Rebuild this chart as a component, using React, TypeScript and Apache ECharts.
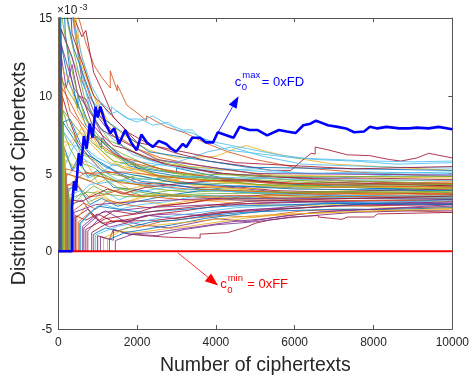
import React, { useEffect, useRef } from "react";
import * as echarts from "echarts";

// ---- axis ticks (y in units of 1e-3) ----
const xTicks = [0, 2000, 4000, 6000, 8000, 10000];
const yTicks = [-5, 0, 5, 10, 15];

// ---- highlighted key guesses ----
const guessMaxLabel = "0xFD";
const guessMinLabel = "0xFF";
const guessMax: number[][] = [[0,0],[350,0],[350,2.9],[400,4.5],[450,3.9],[520,6.3],[580,5.5],[650,7.4],[720,6.6],[800,8.2],[870,7.3],[950,9.3],[1000,8.6],[1070,9.3],[1200,8.2],[1320,7.6],[1420,7.9],[1540,6.9],[1700,7.8],[1850,7.0],[1990,6.5],[2110,7.5],[2250,7.0],[2400,6.7],[2550,7.1],[2740,6.9],[2870,6.6],[2990,6.4],[3160,6.9],[3250,6.7],[3400,7.3],[3600,7.3],[3750,7.0],[3930,7.0],[4050,7.65],[4280,7.45],[4450,7.3],[4600,8.0],[4850,7.8],[5050,7.8],[5300,7.45],[5600,7.8],[5800,7.7],[6020,7.6],[6220,8.1],[6400,8.2],[6540,8.4],[6840,8.1],[7090,8.0],[7300,7.9],[7510,7.65],[7760,7.7],[7910,8.0],[8100,7.9],[8330,8.0],[8660,7.9],[8900,7.9],[9100,7.95],[9400,7.9],[9650,8.0],[10000,7.85]];
const guessMin: number[][] = [[0,0],[10000,0]];

// ---- other key guesses ----
const earlyCurves: number[][][] = [
  [[45,0],[45,22],[180,14],[300,11.5],[500,9.2],[500,10.0],[800,8.0],[1100,6.6],[1100,7.3],[1600,6.0],[2200,5.3],[3000,5.0],[3000,5.35],[4200,4.7],[5500,4.4],[7000,4.15],[8500,4.0],[10000,3.75]],
  [[35,0],[35,28],[250,19],[500,15.2],[700,13.4],[900,12.0],[1100,11.2],[1320,10.5],[1320,11.6],[1500,10.3],[1500,10.7],[1740,9.4],[2000,8.9],[2240,8.4],[2240,8.7],[2740,8.0],[3230,7.6],[3700,7.0],[4300,6.4],[5000,5.9],[6000,5.4],[7500,5.1],[9000,4.9],[10000,4.8]],
  [[25,0],[25,40],[300,17],[420,15.5],[560,13.0],[800,10.5],[1000,9.6],[1300,8.2],[1700,7.4],[2300,6.5],[3000,6.0],[4000,6.1],[4500,6.6],[4770,6.8],[5300,6.4],[6000,6.0],[7000,5.6],[8500,5.4],[10000,5.2]],
  [[80,0],[80,12.5],[200,10.5],[350,12.0],[500,10.0],[700,9.8],[950,8.3],[1200,7.0],[1600,6.1],[2100,5.2],[2800,4.6],[3600,4.3],[4800,4.0],[6000,3.7],[7500,3.5],[9000,3.45],[10000,3.3]],
  [[110,0],[110,9.1],[250,8.0],[400,7.5],[650,5.6],[900,5.4],[1300,4.6],[1800,4.4],[2500,4.0],[3300,3.8],[4300,3.9],[5500,3.6],[7000,3.5],[8500,3.6],[10000,3.5]],
  [[60,0],[60,20],[300,16],[600,12.5],[850,10.6],[1070,9.6],[1350,9.0],[1350,9.3],[1700,8.6],[2000,8.3],[2400,8.7],[2740,8.2],[3160,7.8],[3400,7.8],[3600,7.3],[4000,7.0],[4800,6.6],[5600,6.2],[6500,5.9],[7500,5.8],[8600,5.6],[10000,5.7]],
  [[50,0],[50,20],[400,15],[600,13.8],[700,14.2],[900,11.5],[1100,10.4],[1400,8.6],[1800,7.6],[2300,6.9],[3000,6.3],[3800,5.8],[4700,5.5],[5400,5.2],[5900,5.2],[6270,6.0],[6420,6.3],[6520,6.25],[6520,6.7],[6800,6.55],[7340,6.2],[7900,6.15],[8400,5.9],[8700,5.8],[9100,6.0],[9400,6.3],[10000,6.0]],
  [[150,0],[150,6.7],[350,5.2],[500,6.0],[750,4.8],[1000,5.2],[1400,4.1],[1900,4.0],[2600,3.7],[3500,3.5],[4500,3.3],[5500,3.25],[7000,3.15],[8500,3.0],[10000,3.05]],
  [[90,0],[90,11.2],[300,9.0],[500,8.4],[750,7.2],[1000,7.4],[1400,6.3],[2000,5.6],[2600,5.3],[3300,5.0],[4200,4.6],[5200,4.5],[6500,4.3],[8000,4.2],[10000,4.1]],
  [[200,0],[200,5.0],[400,4.8],[700,3.4],[1000,3.9],[1400,3.1],[2000,3.3],[2700,3.0],[3500,3.3],[4500,3.1],[5800,2.9],[7000,3.0],[8500,2.8],[10000,2.8]],
  [[30,0],[30,33],[200,16],[350,15.5],[600,11.0],[900,9.0],[1200,8.0],[1700,6.6],[2300,5.9],[3000,5.5],[4000,5.0],[5000,4.9],[6500,4.6],[8000,4.45],[10000,4.3]],
  [[130,0],[130,7.7],[300,6.6],[550,5.5],[800,4.9],[1100,4.8],[1500,4.1],[2100,3.8],[2800,3.5],[3700,3.6],[4800,3.4],[6000,3.5],[7500,3.4],[9000,3.35],[10000,3.4]],
  [[70,0],[70,14.3],[250,13],[500,11.5],[750,10.0],[1000,9.3],[1100,9.5],[1300,8.8],[1500,9.0],[1800,8.5],[2100,8.5],[2400,8.1],[2800,8.3],[3000,7.8],[3400,7.6],[3800,7.1],[4300,6.5],[5000,6.3],[6000,6.0],[7000,5.9],[8000,5.8],[9000,5.75],[10000,5.8]],
  [[100,0],[100,10],[300,8.3],[500,7.0],[800,6.0],[1100,5.2],[1500,5.0],[2000,4.4],[2700,4.3],[3500,4.1],[4500,4.15],[5500,3.9],[7000,3.8],[8500,3.75],[10000,3.65]],
];
const midCurves: number[][][] = [
  [[250,0],[250,4.0],[500,4.2],[800,3.0],[1100,3.4],[1500,2.9],[2000,3.2],[2800,3.6],[3600,3.9],[4600,4.2],[5800,4.1],[7000,4.25],[8500,4.3],[10000,4.2]],
  [[40,0],[40,25],[200,20],[400,14.8],[600,11.5],[800,10.0],[1100,8.5],[1500,7.4],[2000,6.6],[2600,6.0],[3400,5.6],[4400,5.2],[5500,4.8],[7000,4.6],[8500,4.4],[10000,4.45]],
  [[170,0],[170,5.9],[400,5.5],[700,5.8],[1000,4.4],[1300,4.7],[1800,4.0],[2500,4.4],[3200,4.7],[4200,4.5],[5200,4.7],[6500,4.5],[8000,4.6],[10000,4.5]],
  [[330,0],[330,3.0],[600,3.3],[900,2.2],[1200,2.6],[1700,1.9],[2300,2.3],[3000,2.1],[3900,2.5],[5000,2.7],[6200,2.8],[7500,3.0],[9000,3.1],[10000,3.2]],
  [[55,0],[55,18],[250,14.5],[450,12.2],[700,9.5],[950,8.4],[1300,7.1],[1700,6.7],[2200,6.0],[2900,5.7],[3700,5.2],[4700,4.8],[5800,4.6],[7200,4.4],[8800,4.3],[10000,4.25]],
  [[210,0],[210,4.8],[450,5.4],[750,4.7],[1050,5.0],[1400,5.6],[1800,5.2],[2400,5.5],[3100,5.8],[3800,6.4],[4400,6.7],[5200,6.1],[6200,5.6],[7300,5.5],[8600,5.4],[10000,5.35]],
  [[430,0],[430,2.3],[700,2.0],[1000,2.4],[1400,1.9],[1900,2.1],[2500,2.4],[3200,2.6],[4000,2.9],[5000,3.1],[6300,3.2],[7800,3.25],[10000,3.3]],
  [[75,0],[75,13.3],[250,11],[450,9.8],[700,8.1],[950,7.4],[1300,6.6],[1800,5.5],[2400,5.1],[3100,4.8],[4000,4.7],[5000,4.5],[6500,4.2],[8000,4.05],[10000,4.0]],
  [[520,0],[520,1.9],[800,2.5],[1100,1.8],[1500,2.0],[2000,1.5],[2600,1.9],[3300,2.1],[4100,2.3],[5000,2.2],[6200,2.6],[7500,2.7],[9000,2.6],[10000,2.5]],
  [[140,0],[140,7.1],[350,6.8],[600,8.0],[900,7.0],[1200,6.2],[1600,5.4],[2100,5.0],[2800,4.6],[3500,4.2],[4500,4.0],[5500,4.1],[7000,3.95],[8500,3.9],[10000,3.85]],
  [[620,0],[620,1.6],[900,2.2],[1200,1.7],[1600,2.0],[2100,1.7],[2800,1.5],[3400,1.8],[4000,2.1],[4800,1.9],[5800,2.3],[7000,2.6],[8500,2.75],[10000,2.9]],
  [[65,0],[65,15.4],[200,13.5],[400,11.0],[650,8.8],[900,7.8],[1200,6.9],[1600,6.3],[2200,5.6],[3000,5.0],[4000,4.7],[5000,4.6],[6500,4.4],[8000,4.5],[10000,4.35]],
  [[280,0],[280,3.6],[550,3.9],[850,3.2],[1150,3.9],[1550,3.3],[2000,3.8],[2700,4.1],[3500,4.4],[4500,4.6],[5500,4.8],[7000,4.7],[8500,4.9],[10000,4.9]],
  [[1000,0],[1000,1.0],[1300,0.77],[1400,1.4],[1800,1.1],[2200,1.0],[2800,0.9],[3600,0.85],[3600,1.1],[4300,1.2],[4770,1.55],[5000,1.8],[5350,2.0],[5900,2.2],[6600,2.3],[6600,2.2],[7200,2.05],[7340,2.2],[8000,2.2],[8100,2.4],[10000,2.5]],
];
const lateCurves: number[][][] = [
  [[120,0],[120,8.3],[300,8.5],[550,7.0],[850,6.1],[1150,5.5],[1550,5.0],[2100,4.5],[2800,4.3],[3600,4.0],[4600,3.8],[5800,3.7],[7200,3.6],[8600,3.55],[10000,3.55]],
  [[380,0],[380,2.6],[650,3.1],[950,2.7],[1250,3.3],[1700,3.0],[2300,2.8],[3000,3.0],[3900,3.3],[4800,3.5],[6000,3.6],[7300,3.7],[8800,3.6],[10000,3.7]],
  [[85,0],[85,11.8],[280,11.0],[500,9.0],[750,8.0],[1000,6.8],[1350,6.3],[1800,5.4],[2400,5.0],[3200,4.4],[4200,4.1],[5300,3.8],[6800,3.75],[8300,3.6],[10000,3.6]],
  [[750,0],[750,1.3],[1000,2.0],[1300,1.55],[1700,1.8],[2200,2.3],[2900,2.4],[3700,2.3],[4600,2.6],[5600,2.8],[6800,3.1],[8200,3.0],[10000,3.1]],
  [[160,0],[160,6.3],[380,5.3],[650,6.2],[950,5.8],[1250,5.0],[1700,4.8],[2300,4.6],[3100,4.9],[4000,4.6],[5000,4.3],[6300,4.1],[7700,4.15],[9200,4.05],[10000,4.1]],
  [[50,0],[50,20],[200,18],[350,15.2],[550,12.0],[800,9.2],[1050,8.0],[1400,7.2],[1900,6.2],[2500,5.7],[3300,5.4],[4300,5.3],[5300,5.1],[6700,5.0],[8200,5.0],[10000,5.1]],
  [[450,0],[450,2.2],[750,2.7],[1050,2.0],[1400,2.6],[1900,2.4],[2500,2.9],[3300,3.1],[4200,3.5],[5200,3.6],[6500,3.8],[8000,3.9],[10000,4.0]],
  [[900,0],[900,1.1],[1200,1.5],[1500,1.3],[1900,1.6],[2400,1.9],[3000,2.0],[3800,2.3],[4700,2.5],[5700,2.6],[7000,2.7],[8500,2.7],[10000,2.8]],
  [[230,0],[230,4.3],[480,4.2],[780,3.5],[1100,3.6],[1500,3.9],[2000,3.5],[2700,3.6],[3500,3.5],[4500,3.6],[5600,3.4],[7000,3.55],[8500,3.5],[10000,3.45]],
  [[1150,0],[1150,0.87],[1500,1.3],[2000,1.2],[2600,1.4],[3300,1.6],[4100,1.9],[5000,2.2],[6000,2.4],[7200,2.5],[8700,2.6],[10000,2.7]],
  [[1070,0],[1070,0.93],[1400,0.71],[1400,1.4],[1800,1.1],[2400,1.2],[3000,1.4],[3600,1.6],[4400,1.9],[5300,2.1],[6500,2.5],[8000,2.7],[10000,3.0]],
  [[350,0],[350,2.9],[600,3.6],[900,4.2],[1200,3.8],[1600,4.0],[2100,3.6],[2800,3.9],[3700,4.0],[4700,3.9],[5900,3.8],[7300,3.85],[8800,3.8],[10000,3.9]],
  [[180,0],[180,5.6],[400,6.8],[700,6.6],[1000,6.0],[1400,5.5],[1900,5.8],[2500,5.6],[3200,5.3],[4000,5.2],[5000,5.3],[6300,5.0],[7800,5.1],[10000,5.0]],
  [[300,0],[300,3.3],[600,3.2],[900,3.6],[1250,4.0],[1650,3.7],[2200,4.1],[2900,4.3],[3700,4.5],[4700,4.6],[5900,4.35],[7300,4.4],[8800,4.3],[10000,4.2]],
  [[1300,0],[1300,0.77],[1700,1.2],[2200,1.4],[2900,1.7],[3700,2.1],[4600,2.4],[5600,2.7],[6800,2.9],[8200,3.1],[10000,3.35]],
  [[95,0],[95,10.5],[300,9.6],[520,8.5],[800,7.6],[1100,6.8],[1500,6.1],[2000,5.8],[2700,5.2],[3500,4.9],[4500,4.6],[5600,4.3],[7000,4.1],[8500,4.2],[10000,4.15]],
  [[480,0],[480,2.1],[780,3.2],[1100,3.5],[1500,3.0],[2000,3.4],[2700,3.7],[3500,3.5],[4500,3.4],[5600,3.65],[7000,3.7],[8500,3.8],[10000,3.75]],
  [[1450,0],[1450,0.69],[1900,1.1],[2500,1.0],[3200,1.4],[4000,1.7],[5000,1.9],[6000,2.2],[7500,2.5],[9000,2.6],[10000,2.6]],
  [[260,0],[260,3.8],[520,4.8],[820,4.5],[1100,5.0],[1500,4.5],[2000,4.9],[2700,4.5],[3500,4.3],[4500,4.4],[5500,4.2],[7000,4.3],[8500,4.25],[10000,4.3]],
  [[570,0],[570,1.75],[850,2.6],[1150,3.0],[1550,2.7],[2100,3.0],[2800,3.2],[3600,3.6],[4600,3.5],[5600,3.3],[7000,3.45],[8500,3.4],[10000,3.45]],
  [[70,0],[70,14.3],[350,12.5],[600,10.0],[850,8.2],[1100,7.5],[1400,6.8],[1700,6.6],[2100,6.2],[2700,5.6],[3400,5.3],[4200,5.0],[5200,4.8],[6500,4.7],[8000,4.7],[10000,4.6]],
];
const fillerCurves: number[][][] = [
  [[120,0],[120,8.3],[600,6.4],[1500,5.1],[3000,4.4],[6000,4.0],[10000,3.9]],
  [[200,0],[200,5.0],[700,4.6],[1600,3.7],[3200,3.3],[6000,3.3],[10000,3.2]],
  [[40,0],[40,25],[500,12.5],[1300,7.5],[2800,5.6],[5500,4.9],[10000,4.7]],
  [[650,0],[650,1.5],[1100,2.5],[2200,2.8],[4000,3.0],[7000,3.2],[10000,3.1]],
  [[90,0],[90,11],[450,9.5],[1200,6.4],[2500,4.9],[5000,4.3],[10000,4.0]],
  [[320,0],[320,3.1],[800,4.3],[1800,4.6],[3500,4.8],[6500,4.6],[10000,4.55]],
  [[850,0],[850,1.2],[1300,1.9],[2500,2.0],[4200,2.5],[7000,2.9],[10000,3.0]],
  [[60,0],[60,17],[400,13.0],[1000,8.8],[2300,6.4],[4800,5.4],[7500,5.3],[10000,5.2]],
  [[240,0],[240,4.2],[700,5.1],[1600,4.4],[3300,4.0],[6500,3.7],[10000,3.7]],
  [[150,0],[150,6.7],[550,7.6],[1300,5.7],[2600,4.8],[5200,4.2],[10000,4.05]],
  [[400,0],[400,2.5],[950,3.0],[2000,3.2],[3900,3.4],[7000,3.4],[10000,3.35]],
  [[110,0],[110,9.1],[500,7.8],[1400,5.8],[3000,5.0],[6000,4.8],[10000,4.8]],
  [[950,0],[950,1.05],[1500,1.6],[2700,2.2],[4500,2.8],[7000,3.1],[10000,3.25]],
  [[35,0],[35,28],[350,14],[900,10],[2000,7.0],[4500,5.7],[7500,5.3],[10000,5.45]],
  [[550,0],[550,1.8],[1000,2.9],[2100,2.5],[4300,2.9],[7500,3.1],[10000,3.0]],
  [[190,0],[190,5.3],[650,5.0],[1700,5.1],[3400,4.6],[6500,4.3],[10000,4.35]],
  [[1250,0],[1250,0.8],[1700,1.5],[3000,1.8],[5000,2.3],[8000,2.6],[10000,2.75]],
  [[75,0],[75,13.3],[400,10.5],[1100,7.8],[2500,5.9],[5000,5.0],[10000,4.9]],
  [[290,0],[290,3.4],[750,3.8],[1800,3.5],[3800,3.7],[7000,3.8],[10000,3.8]],
  [[130,0],[130,7.7],[600,6.0],[1500,4.6],[3000,4.0],[6500,3.6],[10000,3.55]],
  [[700,0],[700,1.4],[1200,2.1],[2500,2.6],[4800,3.2],[7500,3.4],[10000,3.55]],
];

// ---- annotation anchors (data units) ----
const maxArrowFrom = [4055, 7.65];
const maxArrowTo = [4577, 9.97];
const maxLabelAt = [4480, 10.7];
const minArrowFrom = [3035, -0.1];
const minArrowTo = [4055, -2.2];
const minLabelAt = [4110, -2.3];

const palette = ["#0072BD", "#D95319", "#EDB120", "#7E2F8E", "#77AC30", "#4DBEEE", "#A2142F"];
const FONT = "Liberation Sans, Arial, Helvetica, sans-serif";

export default function App() {
  const ref = useRef<HTMLDivElement>(null);
  useEffect(() => {
    document.body.style.margin = "0";
    const chart = echarts.init(ref.current!, null, { renderer: "svg" });
    const all = [...earlyCurves, ...midCurves, ...lateCurves, ...fillerCurves];
    const series: any[] = all.map((d, i) => ({
      type: "line",
      data: d,
      showSymbol: false,
      silent: true,
      clip: true,
      lineStyle: { width: 0.85, color: palette[i % palette.length] },
      itemStyle: { color: palette[i % palette.length] },
    }));
    series.push({
      type: "line", data: guessMin, showSymbol: false, silent: true,
      lineStyle: { width: 2.2, color: "#FF0000" }, itemStyle: { color: "#FF0000" },
    });
    series.push({
      type: "line", data: guessMax, showSymbol: false, silent: true, clip: true,
      lineStyle: { width: 2.6, color: "#0000FF" }, itemStyle: { color: "#0000FF" },
    });
    const axisLine = { show: true, onZero: false, lineStyle: { color: "#555", width: 1 } };
    const axisTick = { show: true, inside: true, length: 4, lineStyle: { color: "#555" } };
    const plain = (v: number) => String(v);
    chart.setOption({
      animation: false,
      grid: { left: 55, right: 15, top: 18, bottom: 51 },
      xAxis: [
        {
          type: "value", position: "bottom", min: xTicks[0], max: xTicks[xTicks.length - 1], interval: xTicks[1] - xTicks[0],
          axisLine, axisTick, splitLine: { show: false },
          axisLabel: { fontSize: 12, color: "#262626", fontFamily: FONT, margin: 7, formatter: plain },
          name: "Number of ciphertexts", nameLocation: "middle", nameGap: 25,
          nameTextStyle: { fontSize: 19.5, color: "#262626", fontFamily: FONT },
        },
        {
          type: "value", position: "top", min: xTicks[0], max: xTicks[xTicks.length - 1], interval: xTicks[1] - xTicks[0],
          axisLine, axisTick, axisLabel: { show: false }, splitLine: { show: false },
        },
      ],
      yAxis: [
        {
          type: "value", position: "left", min: yTicks[0], max: yTicks[yTicks.length - 1], interval: yTicks[1] - yTicks[0],
          axisLine, axisTick, splitLine: { show: false },
          axisLabel: { fontSize: 12, color: "#262626", fontFamily: FONT, margin: 6, formatter: plain },
          name: "Distribution of Ciphertexts", nameLocation: "middle", nameGap: 21,
          nameTextStyle: { fontSize: 19.5, color: "#262626", fontFamily: FONT },
        },
        {
          type: "value", position: "right", min: yTicks[0], max: yTicks[yTicks.length - 1], interval: yTicks[1] - yTicks[0],
          axisLine, axisTick, axisLabel: { show: false }, splitLine: { show: false },
        },
      ],
      series,
    });

    const px = (p: number[]) => chart.convertToPixel({ xAxisIndex: 0, yAxisIndex: 0 }, p) as number[];
    const arrow = (a: number[], b: number[], color: string, hl: number, hw: number) => {
      const dx = b[0] - a[0], dy = b[1] - a[1];
      const L = Math.hypot(dx, dy);
      const ux = dx / L, uy = dy / L;
      const bx = b[0] - ux * hl, by = b[1] - uy * hl;
      return [
        { type: "line", silent: true, shape: { x1: a[0], y1: a[1], x2: bx, y2: by }, style: { stroke: color, lineWidth: 0.8 } },
        { type: "polygon", silent: true, shape: { points: [[b[0], b[1]], [bx - uy * hw, by + ux * hw], [bx + uy * hw, by - ux * hw]] }, style: { fill: color } },
      ];
    };
    const label = (at: number[], sup: string, sub: string, rest: string, color: string) => {
      const p = px(at);
      const base = p[1];
      const t = (text: string, x: number, y: number, size: number) => ({
        type: "text", silent: true, x, y,
        style: { text, fill: color, fontSize: size, fontFamily: FONT, textVerticalAlign: "bottom", textAlign: "left" },
      });
      return [
        t("c", p[0], base + 3, 13),
        t(sup, p[0] + 7.5, base - 5, 9.5),
        t(sub, p[0] + 7, base + 7, 9.5),
        t(rest, p[0] + 7.5 + (sup.length * 5.5) + 3, base + 3, 13),
      ];
    };
    const a1 = px(maxArrowFrom), b1 = px(maxArrowTo);
    const a2 = px(minArrowFrom), b2 = px(minArrowTo);
    chart.setOption({
      graphic: [
        ...arrow(a1, b1, "#0000FF", 12, 4.5),
        ...arrow(a2, b2, "#FF0000", 13, 5),
        ...label(maxLabelAt, "max", "0", "= " + guessMaxLabel, "#0000FF"),
        ...label(minLabelAt, "min", "0", "= " + guessMinLabel, "#FF0000"),
        { type: "text", silent: true, x: 57, y: 16, style: { text: "\u00d710", fill: "#262626", fontSize: 12, fontFamily: FONT, textVerticalAlign: "bottom" } },
        { type: "text", silent: true, x: 79.5, y: 11, style: { text: "-3", fill: "#262626", fontSize: 9, fontFamily: FONT, textVerticalAlign: "bottom" } },
      ],
    });
    return () => chart.dispose();
  }, []);
  return <div ref={ref} style={{ position: "fixed", left: 0, top: 0, width: 472, height: 380 }} />;
}
